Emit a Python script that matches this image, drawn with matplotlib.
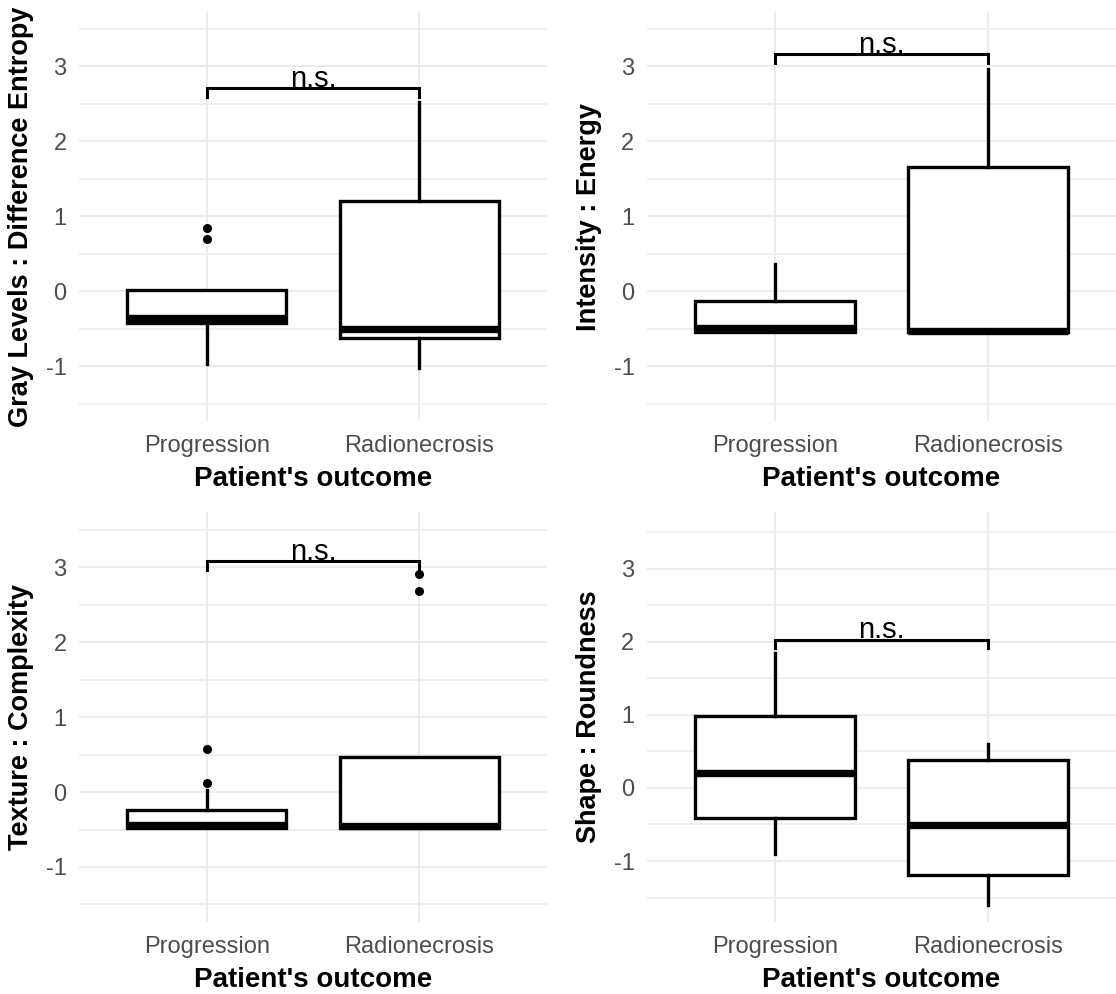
import matplotlib
matplotlib.use("Agg")
import matplotlib.pyplot as plt
from matplotlib.ticker import MultipleLocator

plt.rcParams['font.family'] = ['Liberation Sans', 'DejaVu Sans']
plt.rcParams['axes.unicode_minus'] = False

# Categories and panel labels
groups = ["Progression", "Radionecrosis"]
features = ["Gray Levels : Difference Entropy", "Intensity : Energy",
            "Texture : Complexity", "Shape : Roundness"]

# Box statistics, one list per feature: [Progression, Radionecrosis]
whislo = [[-0.97, -1.02], [-0.55, -0.55], [-0.48, -0.48], [-0.91, -1.60]]
q1 = [[-0.43, -0.63], [-0.54, -0.55], [-0.48, -0.48], [-0.41, -1.19]]
med = [[-0.36, -0.51], [-0.49, -0.53], [-0.44, -0.45], [0.20, -0.51]]
q3 = [[0.01, 1.20], [-0.13, 1.66], [-0.24, 0.47], [0.99, 0.38]]
whishi = [[0.01, 2.53], [0.37, 2.97], [0.03, 0.47], [1.85, 0.60]]
fliers = [[[0.70, 0.85], []], [[], []], [[0.12, 0.58], [2.68, 2.91]], [[], []]]

# Significance brackets
bracket_y = [2.71, 3.16, 3.08, 2.03]
bracket_label = ["n.s.", "n.s.", "n.s.", "n.s."]
tip = 0.12

ylims = [(-1.73, 3.72), (-1.73, 3.72), (-1.73, 3.73), (-1.83, 3.77)]

fig = plt.figure(figsize=(11.16, 9.94), dpi=100)
positions = [
    [0.0708, 0.5765, 0.4194, 0.4111],
    [0.5797, 0.5765, 0.4203, 0.4111],
    [0.0708, 0.0727, 0.4194, 0.4119],
    [0.5797, 0.0727, 0.4203, 0.4119],
]

grid_col = '#EBEBEB'
lw_box = 2.4

for i, feat in enumerate(features):
    ax = fig.add_axes(positions[i])
    stats = []
    for j, g in enumerate(groups):
        stats.append({
            'label': g,
            'whislo': whislo[i][j], 'q1': q1[i][j], 'med': med[i][j],
            'q3': q3[i][j], 'whishi': whishi[i][j], 'fliers': fliers[i][j],
        })
    ax.bxp(stats, positions=[1, 2], widths=0.75, patch_artist=True,
           showcaps=False,
           boxprops=dict(facecolor='white', edgecolor='black', linewidth=lw_box),
           medianprops=dict(color='black', linewidth=5.3, solid_capstyle='butt'),
           whiskerprops=dict(color='black', linewidth=lw_box),
           flierprops=dict(marker='o', markerfacecolor='black',
                           markeredgecolor='black', markersize=5.5))

    # bracket with label
    yb = bracket_y[i]
    ax.plot([1, 1, 2, 2], [yb - tip, yb, yb, yb - tip], color='black',
            linewidth=2.2, solid_joinstyle='miter', zorder=5)
    ax.annotate(bracket_label[i], xy=(1.5, yb), xytext=(0, 1),
                textcoords='offset points', ha='center', va='baseline',
                fontsize=21, color='black', zorder=6)

    ax.set_xlim(0.4, 2.6)
    ax.set_ylim(*ylims[i])
    ax.yaxis.set_major_locator(MultipleLocator(1))
    ax.yaxis.set_minor_locator(MultipleLocator(0.5))
    ax.set_xticks([1, 2])
    ax.set_xticklabels(groups)

    ax.grid(True, which='major', axis='both', color=grid_col, linewidth=1.3)
    ax.grid(True, which='minor', axis='y', color=grid_col, linewidth=1.1)
    ax.set_axisbelow(True)
    for s in ax.spines.values():
        s.set_visible(False)
    ax.tick_params(axis='both', which='both', length=0)
    ax.tick_params(axis='x', labelsize=17, labelcolor='#4D4D4D', pad=10)
    ax.tick_params(axis='y', labelsize=17, labelcolor='#4D4D4D', pad=9)

    ax.set_xlabel("Patient's outcome", fontsize=20, fontweight='bold')
    ax.xaxis.set_label_coords(0.5, -0.143)
    ax.xaxis.label.set_va('center')
    ax.set_ylabel(feat, fontsize=19.5, fontweight='bold')
    ax.yaxis.set_label_coords(-0.123, 0.5)
    ax.yaxis.label.set_va('center')

fig.savefig('out.png', dpi=100, facecolor='white')
